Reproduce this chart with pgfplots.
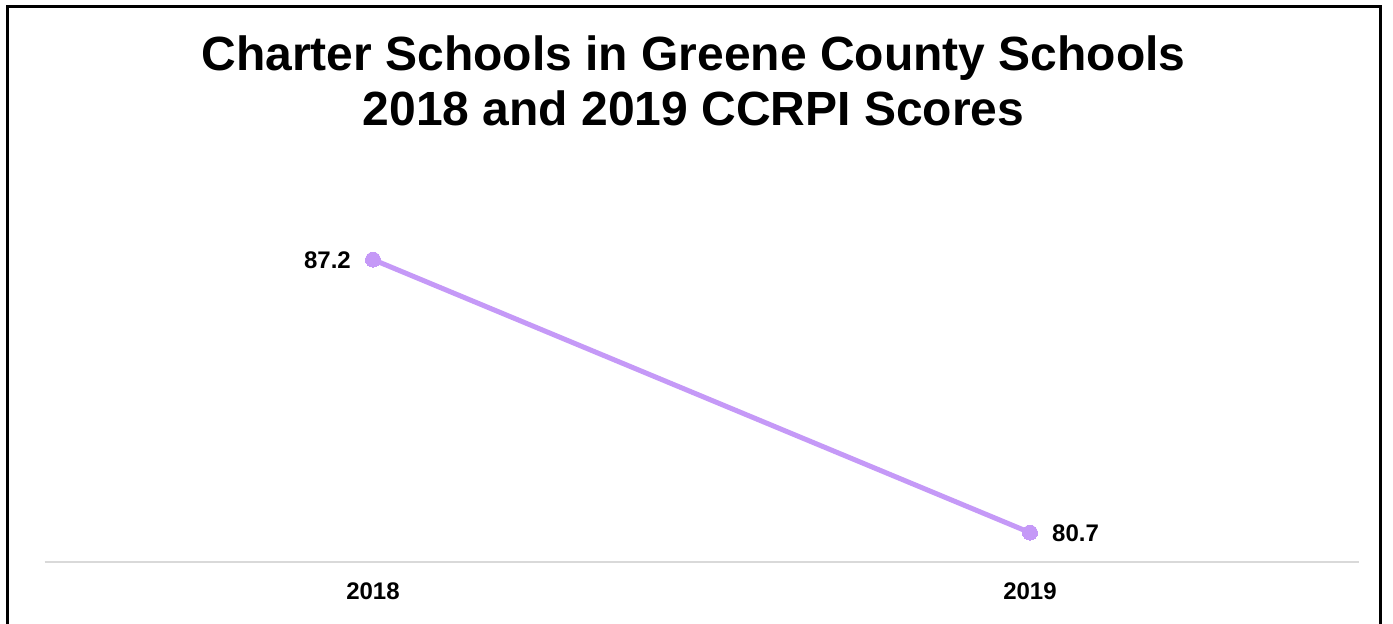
\documentclass[border=0pt]{standalone}
\usepackage{pgfplots}
\pgfplotsset{compat=1.18}
\usepackage{fontspec}
\setmainfont{Liberation Sans}
\definecolor{lineC}{RGB}{197,153,247}
\definecolor{axC}{RGB}{217,217,217}
\begin{document}
\begin{tikzpicture}
\useasboundingbox (-44.5pt,-62pt) rectangle (1348.5pt,562pt);
\begin{axis}[
  at={(0pt,0pt)}, anchor=south west,
  scale only axis, width=1314pt, height=420pt,
  xmin=-0.5, xmax=1.5, ymin=80, ymax=90,
  axis x line=bottom, axis y line=none,
  x axis line style={-, draw=axC, line width=2pt},
  xtick={0,1}, xticklabels={2018,2019},
  major tick length=0pt,
  xticklabel style={font=\fontsize{24}{28}\selectfont\bfseries, anchor=base, yshift=-37pt, inner sep=0pt},
  clip=false,
]
\addplot[color=lineC, line width=5pt, mark=*, mark size=7.5pt, mark options={fill=lineC, draw=lineC, line width=0pt}]
  coordinates {(0,87.2) (1,80.7)};
\addplot[draw=none, nodes near coords={\textbf{87.2}}, nodes near coords style={anchor=east, xshift=-22pt, yshift=-1pt, font=\fontsize{24}{28}\selectfont, text=black, inner sep=0pt}]
  coordinates {(0,87.2)};
\addplot[draw=none, nodes near coords={\textbf{80.7}}, nodes near coords style={anchor=west, xshift=22pt, yshift=-1pt, font=\fontsize{24}{28}\selectfont, text=black, inner sep=0pt}]
  coordinates {(1,80.7)};
\end{axis}
\node[anchor=base, font=\fontsize{48}{56}\selectfont\bfseries, inner sep=0pt] at (649pt,491pt) {Charter Schools in Greene County Schools};
\node[anchor=base, font=\fontsize{48}{56}\selectfont\bfseries, inner sep=0pt] at (649pt,436pt) {2018 and 2019 CCRPI Scores};
\draw[black, line width=3pt] (-37pt,-80pt) -- (-37pt,555.7pt) -- (1335.5pt,555.7pt) -- (1335.5pt,-80pt);
\end{tikzpicture}
\end{document}
